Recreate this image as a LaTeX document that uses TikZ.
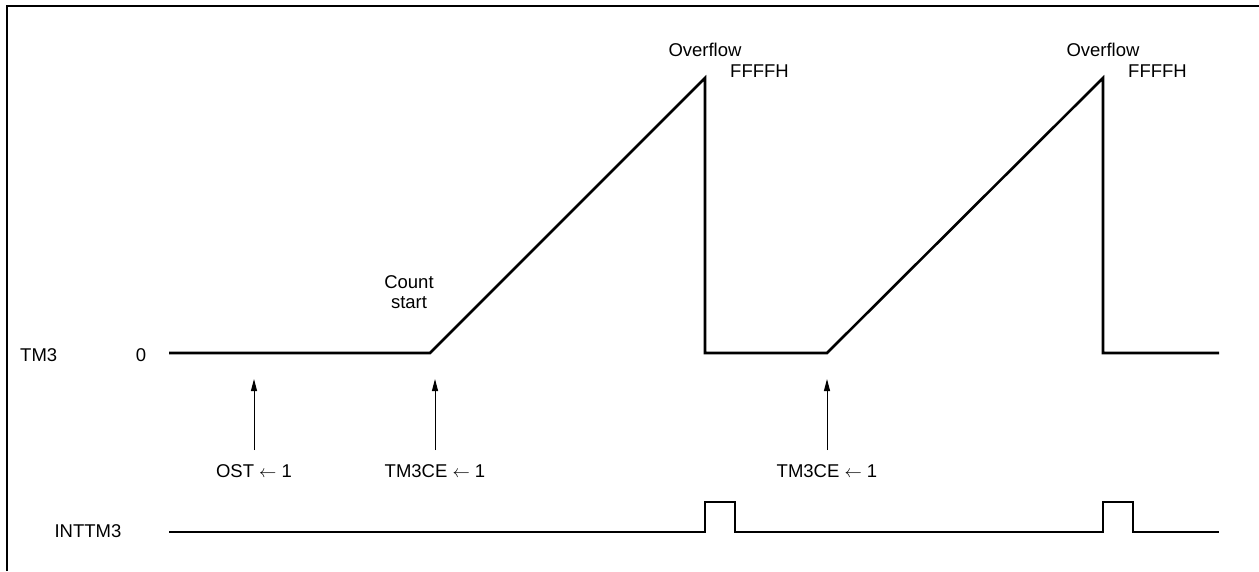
\documentclass[tikz,border=0pt]{standalone}
\usepackage{fontspec}
\setmainfont{Liberation Sans}
\usetikzlibrary{arrows.meta}
\begin{document}
\begin{tikzpicture}[x=1pt,y=-1pt,
  wave/.style={line width=2.6pt, line join=miter},
  frame/.style={line width=2.5pt},
  trig/.style={line width=1pt,-{Triangle[length=12pt,width=6pt]}},
  lbl/.style={font=\fontsize{18.5}{20}\selectfont, inner sep=0pt},
]
\useasboundingbox (0,0) rectangle (1259,571);
\draw[frame] (7,571) -- (7,6) -- (1259,6);

% labels
\node[lbl, anchor=west] (tm3) at (20,355) {TM3};
\node[lbl] (zero) at (141,355) {0};
\node[lbl] (int) at (88,531) {INTTM3};
\node[lbl, align=center] (cs) at (409,292) {Count\\start};
\node[lbl] (ov1) at (705,50) {Overflow};
\node[lbl, anchor=west] (ff1) at (730,71) {FFFFH};
\node[lbl] (ov2) at (1103,50) {Overflow};
\node[lbl, anchor=west] (ff2) at (1128,71) {FFFFH};

% TM3 waveform
\coordinate (a0) at (169,353);
\coordinate (a1) at (430,353);
\coordinate (p1) at (705,78);
\coordinate (b1) at (705,353);
\coordinate (a2) at (827,353);
\coordinate (p2) at (1103,78);
\coordinate (b2) at (1103,353);
\coordinate (a3) at (1219,353);
\draw[wave] (a0) -- (a1) -- (p1) -- (b1) -- (a2) -- (p2) -- (b2) -- (a3);

% INTTM3 waveform
\coordinate (i0) at (169,532);
\coordinate (i1) at (705,532);
\coordinate (i2) at (705,502);
\coordinate (i3) at (735,502);
\coordinate (i4) at (735,532);
\coordinate (i5) at (1103,532);
\coordinate (i6) at (1103,502);
\coordinate (i7) at (1133,502);
\coordinate (i8) at (1133,532);
\coordinate (i9) at (1219,532);
\draw[wave] (i0) -- (i1) -- (i2) -- (i3) -- (i4) -- (i5) -- (i6) -- (i7) -- (i8) -- (i9);

% triggers
\node[lbl] (ost) at (254,471) {OST $\leftarrow$ 1};
\node[lbl] (ce1) at (435,471) {TM3CE $\leftarrow$ 1};
\node[lbl] (ce2) at (827,471) {TM3CE $\leftarrow$ 1};
\coordinate (t1b) at (254,450); \coordinate (t1t) at (254,379);
\coordinate (t2b) at (435,450); \coordinate (t2t) at (435,379);
\coordinate (t3b) at (827,450); \coordinate (t3t) at (827,379);
\draw[trig] (t1b) -- (t1t);
\draw[trig] (t2b) -- (t2t);
\draw[trig] (t3b) -- (t3t);
\end{tikzpicture}
\end{document}
